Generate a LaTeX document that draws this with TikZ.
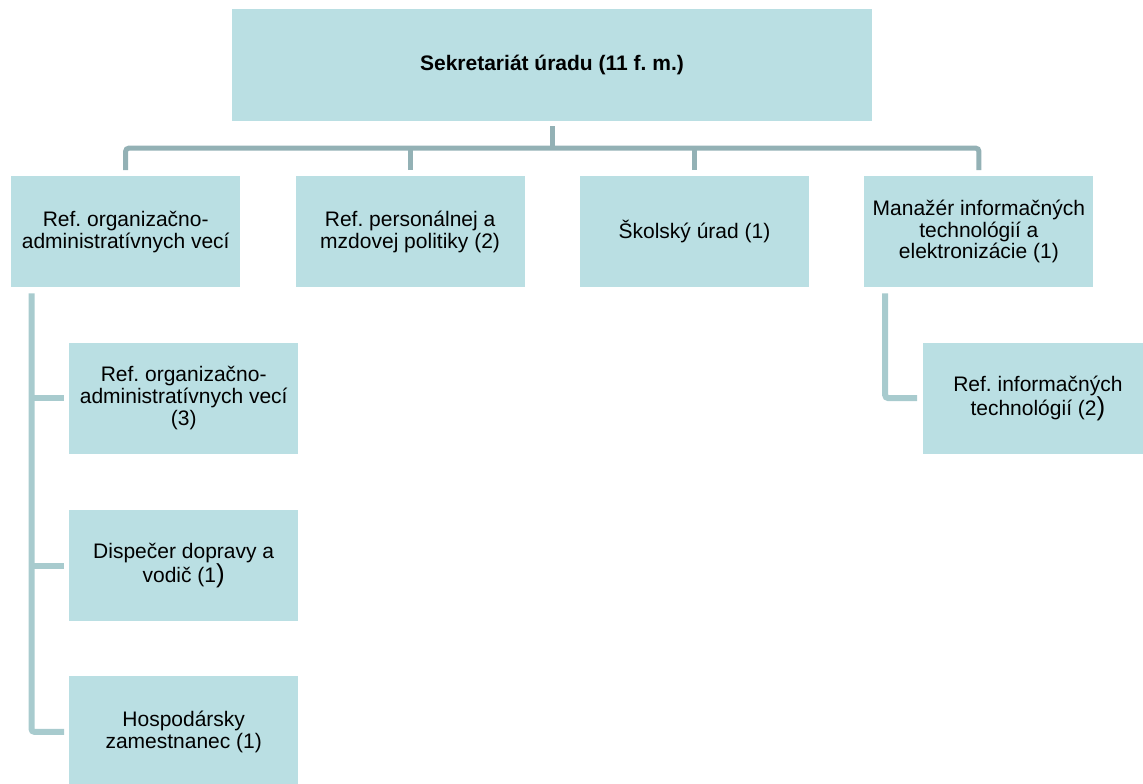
\documentclass[tikz,border=0pt]{standalone}
\usepackage{fontspec}
\setmainfont{Liberation Sans}
\usepackage{xcolor}
\usepackage{tikz}
\usetikzlibrary{positioning,calc}
\definecolor{BoxTeal}{HTML}{BADFE3}
\definecolor{LinkGray}{HTML}{93B1B5}
\definecolor{SubLink}{HTML}{A8CBCE}
\newcommand{\bigparen}{{\fontsize{26}{21.7}\selectfont)}}
\frenchspacing

\begin{document}
\begin{tikzpicture}[
	node distance=55pt and 55pt,
	box/.style={fill=BoxTeal, align=center, inner sep=4pt, minimum width=229pt, minimum height=111pt, font=\fontsize{21}{21.7}\selectfont},
	topbox/.style={box, minimum width=640pt, minimum height=112pt, font=\fontsize{21}{21.7}\selectfont\bfseries},
	link/.style={draw=LinkGray, line width=5pt},
	sublink/.style={draw=SubLink, line width=6pt, rounded corners=3pt}
]
\useasboundingbox (0,0) rectangle (1143pt,-784pt);
\clip (0,0) rectangle (1143pt,-784pt);

\node[topbox] (top) at (552pt,-65pt) {Sekretariát úradu (11 f. m.)};

\node[box, anchor=north west] (ref1) at (11pt,-176pt) {Ref. organizačno-\\administratívnych vecí};
\node[box, right=of ref1] (ref2) {Ref. personálnej a\\mzdovej politiky (2)};
\node[box, right=of ref2] (school) {Školský úrad (1)};
\node[box, right=of school] (mgr) {Manažér informačných\\technológií a\\elektronizácie (1)};

\node[box, below=of ref1, xshift=58pt] (org) {Ref. organizačno-\\administratívnych vecí\\(3)};
\node[box, below=56pt of org] (disp) {Dispečer dopravy a\\vodič (1\bigparen};
\node[box, below=of disp] (hosp) {Hospodársky\\zamestnanec (1)};

\node[box, below=of mgr, xshift=59pt] (itref) {Ref. informačných\\technológií (2\bigparen};

\coordinate (bus) at ([yshift=-27pt]top.south);
\draw[link] ([yshift=-5pt]top.south) -- (bus);
\draw[link, rounded corners=3pt] ([yshift=6pt]ref1.north) |- (bus) -| ([yshift=6pt]mgr.north);
\draw[link] ([yshift=6pt]ref2.north) -- (ref2.north |- bus);
\draw[link] ([yshift=6pt]school.north) -- (school.north |- bus);

\coordinate (trunk) at ([xshift=20.5pt,yshift=-6pt]ref1.south west);
\draw[sublink] (trunk) |- ([xshift=-5pt]hosp.west);
\draw[sublink] (trunk |- org.west) -- ([xshift=-5pt]org.west);
\draw[sublink] (trunk |- disp.west) -- ([xshift=-5pt]disp.west);

\coordinate (ittrunk) at ([xshift=21pt,yshift=-6pt]mgr.south west);
\draw[sublink] (ittrunk) |- ([xshift=-6pt]itref.west);
\end{tikzpicture}
\end{document}
